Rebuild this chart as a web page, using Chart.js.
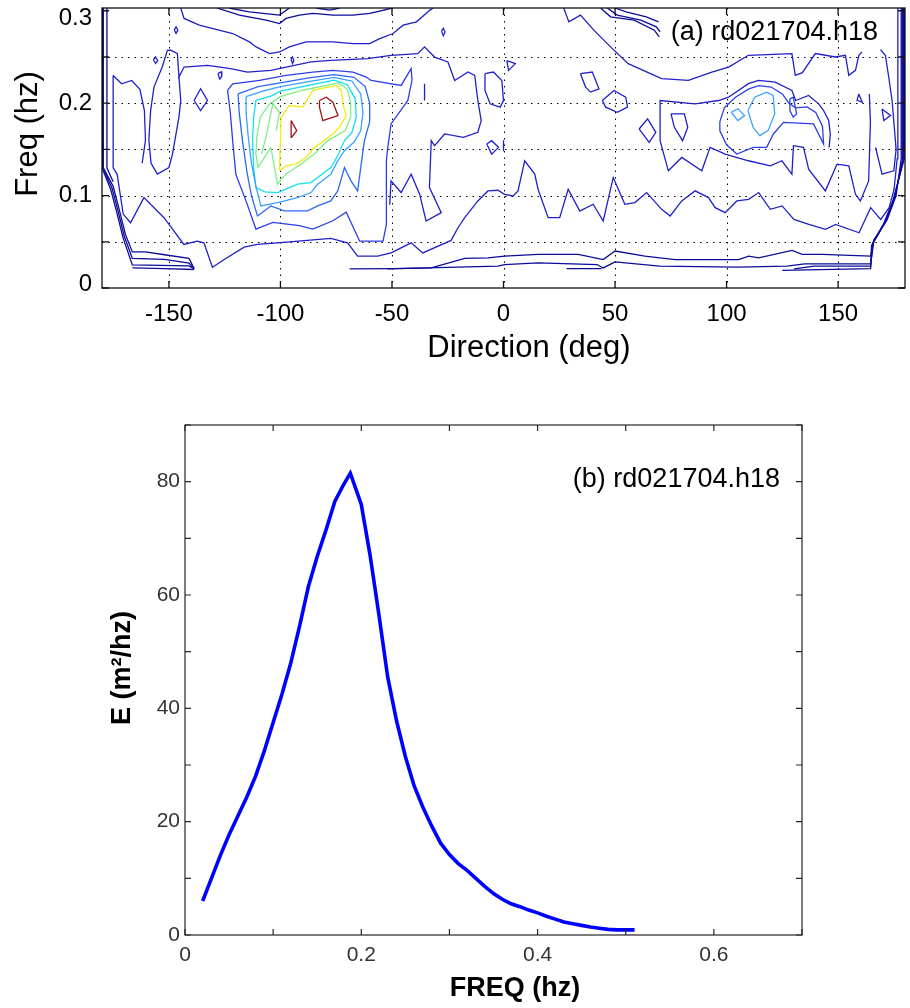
<!DOCTYPE html>
<html>
<head>
<meta charset="utf-8">
<script src="https://cdn.jsdelivr.net/npm/chart.js@4.4.1/dist/chart.umd.min.js"></script>
<style>
  html, body { margin: 0; padding: 0; background: #fff; }
  #wrap { position: relative; width: 910px; height: 1008px; }
  canvas { position: absolute; left: 0; }
</style>
</head>
<body>
<div id="wrap">
  <canvas id="dirspec" width="910" height="372" style="top:0"></canvas>
  <canvas id="freqspec" width="910" height="628" style="top:380px"></canvas>
</div>
<script>
// ---------- panel (b): frequency spectrum ----------
const freqHz = [0.02, 0.03, 0.04, 0.05, 0.06, 0.07, 0.08, 0.09, 0.10, 0.11, 0.12, 0.13, 0.14, 0.15,
  0.16, 0.17, 0.18, 0.1875, 0.19, 0.20, 0.21, 0.22, 0.23, 0.24, 0.25, 0.26, 0.27, 0.28, 0.29, 0.30,
  0.31, 0.32, 0.33, 0.34, 0.35, 0.36, 0.37, 0.38, 0.39, 0.40, 0.41, 0.42, 0.43, 0.44, 0.45, 0.46,
  0.47, 0.48, 0.49, 0.50, 0.51];
const energy = [6.0, 10.0, 14.0, 17.7, 21.0, 24.3, 28.0, 32.5, 37.5, 42.5, 48.0, 54.5, 61.5, 66.8,
  71.5, 76.5, 79.5, 81.5, 80.4, 76.0, 67.0, 56.5, 45.5, 37.8, 31.5, 26.3, 22.5, 19.2, 16.2, 14.2,
  12.6, 11.4, 10.0, 8.6, 7.3, 6.3, 5.5, 5.0, 4.4, 3.9, 3.3, 2.8, 2.3, 2.0, 1.7, 1.4,
  1.2, 1.0, 0.9, 0.9, 0.9];
const freqTicks = [0, 0.1, 0.2, 0.3, 0.4, 0.5, 0.6, 0.7];
const freqLabels = [0, 0.2, 0.4, 0.6];
const energyTicks = [0, 10, 20, 30, 40, 50, 60, 70, 80, 90];
const energyLabels = [0, 20, 40, 60, 80];

// ---------- panel (a): directional spectrum contours ----------
const dirTicks = [-150, -100, -50, 0, 50, 100, 150];
const dirFreqTicks = [0, 0.05, 0.1, 0.15, 0.2, 0.25, 0.3];
const dirFreqLabels = [0, 0.1, 0.2, 0.3];
const contourColors = ['#0c0c9a', '#2020c8', '#2c3fe8', '#2a68f5', '#3ba0ff', '#10e0f2', '#80ee88', '#eeee10', '#a01414'];

// each path is a list of [direction deg, freq hz]
const level1Paths = [
  [[-179.4, 0.303], [-179.4, 0.13], [-175, 0.11], [-172.5, 0.087], [-169.5, 0.058], [-166.4, 0.039], [-160.5, 0.039], [-152, 0.036], [-141, 0.032], [-138.7, 0.021]],
  [[-179.7, 0.303], [-179.7, 0.13], [-175.5, 0.108], [-173, 0.085], [-170, 0.056], [-166.4, 0.032], [-152, 0.031], [-141, 0.027], [-138.7, 0.021]],
  [[-180, 0.303], [-180, 0.13], [-176, 0.106], [-173.5, 0.083], [-170.5, 0.054], [-166.4, 0.025], [-141, 0.024], [-138.7, 0.021]],
  [[-166.4, 0.0217], [-152, 0.021], [-138.7, 0.020]],
  [[-177.8, 0.303], [-177.8, 0.13], [-175, 0.115]],
  [[-69, 0.0207], [-50, 0.021], [-32.4, 0.0217], [-17.4, 0.032], [-7, 0.0326], [0.5, 0.0345], [15.5, 0.0363], [33.5, 0.0363], [44.7, 0.0308], [50, 0.04], [63.4, 0.0345], [76.9, 0.0308], [105.4, 0.0308], [109.9, 0.0345], [114.4, 0.0326], [129.4, 0.0406], [133.9, 0.0363], [142.9, 0.0363], [164.6, 0.0345], [166, 0.052], [172, 0.074], [176, 0.1], [178.3, 0.14], [178.3, 0.303]],
  [[-52, 0.0207], [-2.5, 0.0236], [0.5, 0.0254], [15.5, 0.0272], [42, 0.0254], [44.7, 0.0217], [50, 0.0283], [70, 0.0236], [105, 0.0225], [127, 0.0236], [135, 0.026], [164.6, 0.026], [166, 0.05], [171.5, 0.0725], [175.5, 0.098], [178.8, 0.138], [178.8, 0.303]],
  [[28.3, 0.021], [44, 0.021]],
  [[130.3, 0.0207], [139.3, 0.0236], [164.6, 0.0236], [165.5, 0.048], [171, 0.071], [175, 0.096], [179.3, 0.14], [179.3, 0.303]],
  [[125, 0.019], [164.6, 0.021], [165, 0.046], [170.5, 0.07], [174.5, 0.094], [179.7, 0.14], [179.7, 0.303]],
  [[-123, 0.303], [-114, 0.2989], [-100.4, 0.2953], [-96, 0.303]],
  [[-84, 0.303], [-78, 0.3007], [-73.4, 0.303]],
  [[-128.5, 0.303], [-118.4, 0.2953], [-106.4, 0.2899], [-100.4, 0.2862], [-97.5, 0.2917], [-91.5, 0.2953], [-85.5, 0.2971], [-76.5, 0.2953], [-67.5, 0.2953], [-60, 0.2971], [-55, 0.3], [-50, 0.303]],
  [[43.5, 0.303], [48, 0.2935], [58.6, 0.2899], [67.6, 0.279], [69.8, 0.2717]],
  [[46.5, 0.303], [51, 0.2953], [61.6, 0.2899], [68.5, 0.2826], [70.2, 0.2772]],
  [[50, 0.303], [55, 0.2989], [64, 0.2935], [69.5, 0.288]]
];

const level2Paths = [
  [[-144.7, 0.303], [-143.2, 0.2917], [-136.4, 0.2844], [-121.4, 0.2754], [-113.9, 0.2663], [-110.9, 0.2609], [-104.9, 0.2536], [-100.4, 0.2554], [-96, 0.2609], [-88.5, 0.2663], [-76.5, 0.2663], [-67.5, 0.2645], [-60, 0.2645], [-55.5, 0.2699], [-49.5, 0.2754], [-45, 0.2844], [-39, 0.288], [-33, 0.3007], [-31.5, 0.303]],
  [[27, 0.303], [29.3, 0.288], [34.5, 0.2953], [40.5, 0.279], [48, 0.2609], [55.9, 0.2428], [70.9, 0.2265], [82.9, 0.2247], [93.4, 0.2337], [100.9, 0.2391], [109.8, 0.2518], [129.3, 0.2537], [130.8, 0.2301], [134, 0.233], [139.8, 0.2537], [148.8, 0.25], [153.3, 0.2518], [154.8, 0.2301], [157.8, 0.2355], [159.3, 0.2518], [160.7, 0.2555]],
  [[-175, 0.23], [-175, 0.13], [-173.2, 0.123], [-170.5, 0.08], [-167.2, 0.0706], [-161.2, 0.0978], [-152.2, 0.0761], [-143.3, 0.0471], [-137.3, 0.0507], [-134.3, 0.0489], [-130.5, 0.0225], [-125.2, 0.0308], [-116.3, 0.0442], [-110.3, 0.0471], [-101.3, 0.0489], [-77.4, 0.0537], [-69.9, 0.0489], [-65.4, 0.0345], [-56.4, 0.0345], [-50.4, 0.038], [-41.4, 0.0489], [-36.2, 0.038], [-23.5, 0.0515], [-20.4, 0.0652], [-17.4, 0.0761], [-11.5, 0.0942], [-7, 0.105], [-2.5, 0.1058], [0.5, 0.1014], [4.3, 0.0996], [6.5, 0.1051], [9.5, 0.1377], [14, 0.1232], [15.5, 0.1069], [20, 0.0761], [25.2, 0.0761], [29, 0.1069], [34.2, 0.0833], [40.2, 0.0906], [44.7, 0.0725], [49.2, 0.1196], [54.4, 0.0906], [58.9, 0.0924], [64.2, 0.1033], [70.9, 0.0851], [74.7, 0.0779], [79.9, 0.0942], [85.9, 0.1051], [91.9, 0.0978], [94.9, 0.0869], [99.4, 0.0815], [104.6, 0.0942], [109.9, 0.096], [114.4, 0.1033], [119.6, 0.0851], [124.9, 0.0888], [130.2, 0.0743], [136.9, 0.0688], [144.4, 0.0634], [148.9, 0.0688], [159.4, 0.0598], [164.6, 0.0869], [169.1, 0.0743], [172.9, 0.0869], [175.1, 0.1069], [176.5, 0.14], [176.8, 0.303]],
  [[-159, 0.16], [-158.2, 0.192], [-156.7, 0.2174], [-153, 0.2391], [-150.7, 0.2572], [-149.2, 0.2573], [-146.2, 0.2537], [-145.5, 0.2283], [-143.2, 0.2391], [-132.7, 0.241], [-122.3, 0.2374], [-114.8, 0.2337], [-104.3, 0.2355], [-86.3, 0.2446], [-77.4, 0.2464], [-60.9, 0.2483], [-50.4, 0.2517], [-38.4, 0.2536], [-35.4, 0.2609], [-30.9, 0.2499], [-24.9, 0.2446], [-21.9, 0.2246], [-15.9, 0.2337], [-12.9, 0.2301], [-11.5, 0.2029], [-10, 0.1812], [-11.5, 0.1685], [-18, 0.163], [-26.4, 0.1667], [-30.9, 0.154], [-32.4, 0.1595], [-33.2, 0.1087], [-27.9, 0.0815], [-34.7, 0.0725], [-37.6, 0.1015], [-41.4, 0.1232], [-45.9, 0.1033], [-50.4, 0.116], [-51, 0.09]],
  [[-159, 0.16], [-158, 0.135], [-155.2, 0.1232], [-150, 0.1304], [-148.4, 0.1449], [-145.5, 0.185], [-144.7, 0.2029], [-145.5, 0.2283]],
  [[-175, 0.23], [-171.2, 0.221], [-166.7, 0.2246], [-163, 0.215], [-161, 0.192], [-160.5, 0.16], [-162, 0.135]],
  [[-8.3, 0.2319], [-4.5, 0.2337], [-0.75, 0.2246], [0, 0.2029], [-1.5, 0.1957], [-6, 0.1993], [-8.3, 0.2138], [-8.3, 0.2319]],
  [[-7.5, 0.1558], [-5.3, 0.1594], [-2.25, 0.1522], [-5.3, 0.1449], [-7.5, 0.1558]],
  [[1.5, 0.246], [5.3, 0.2428], [2.25, 0.2355], [1.5, 0.246]],
  [[34.5, 0.2319], [39.8, 0.2337], [42.8, 0.2156], [39, 0.212], [36.8, 0.2174], [34.5, 0.2319]],
  [[44.3, 0.2029], [49.5, 0.2138], [54.8, 0.2065], [55.6, 0.1957], [51, 0.1902], [45.8, 0.1957], [44.3, 0.2029]],
  [[60.8, 0.1721], [64.6, 0.183], [68.3, 0.1685], [65.3, 0.1576], [60.8, 0.1721]],
  [[-138.7, 0.2029], [-135.8, 0.2156], [-132.7, 0.2029], [-135.8, 0.192], [-138.7, 0.2029]],
  [[70.2, 0.1594], [70.2, 0.2029], [85.9, 0.1993], [96.4, 0.2029], [100.9, 0.2065], [109.8, 0.2211], [114.3, 0.2247], [121.8, 0.2228], [129.3, 0.2138], [131, 0.2029], [136.8, 0.2084], [141.3, 0.1993], [143.5, 0.192], [145.8, 0.1812], [146.5, 0.1667], [146, 0.152]],
  [[70.2, 0.1594], [73.9, 0.1268], [79.9, 0.1413], [88.9, 0.1268], [92.6, 0.1522], [99.4, 0.1449], [109.8, 0.1377], [119.6, 0.1322], [124.8, 0.1377], [129.3, 0.1232], [130, 0.154], [134.5, 0.1522], [136.8, 0.1286], [144.3, 0.1051], [149.5, 0.134], [154.8, 0.1322], [157.8, 0.1014], [160, 0.0942], [163.7, 0.1159], [164.5, 0.18], [164, 0.21]],
  [[75.1, 0.1884], [81.1, 0.1884], [82.6, 0.1739], [80.3, 0.1594], [76.6, 0.1739], [75.1, 0.1884]],
  [[166.8, 0.1522], [169.7, 0.1232], [175, 0.1268], [176, 0.15], [175.7, 0.1594], [174.2, 0.2029], [172.7, 0.2283], [171.2, 0.2518], [169, 0.258]],
  [[159.3, 0.21], [160.8, 0.201], [158.5, 0.203], [159.3, 0.21]],
  [[169.7, 0.1938], [173.5, 0.1866], [170.5, 0.1812], [169.7, 0.1938]],
  [[-147.6, 0.279], [-146.8, 0.2825], [-146, 0.279], [-146.8, 0.2755], [-147.6, 0.279]],
  [[-157, 0.247], [-156, 0.25], [-155, 0.246], [-156, 0.243], [-157, 0.247]],
  [[-128, 0.232], [-126.5, 0.234], [-126.3, 0.229], [-127.2, 0.226], [-128, 0.232]],
  [[-95.3, 0.248], [-94.6, 0.25], [-94, 0.246], [-94.6, 0.243], [-95.3, 0.248]],
  [[-27.8, 0.278], [-27, 0.281], [-26.2, 0.277], [-27, 0.273], [-27.8, 0.278]],
  [[-35.4, 0.2211], [-35.4, 0.203]],
  [[0, 0.16], [0, 0.148]]
];

const level3Paths = [
  [[-123.7, 0.2138], [-121.4, 0.221], [-109.4, 0.2246], [-97.5, 0.23], [-85.5, 0.2337], [-76.5, 0.2355], [-67.5, 0.2337], [-61.5, 0.2283], [-59.4, 0.2246], [-45.9, 0.2192], [-41.4, 0.2374], [-41, 0.225], [-42.9, 0.2029], [-50.4, 0.1776], [-52, 0.15], [-52.5, 0.138], [-52.5, 0.0688], [-54, 0.0507], [-64.5, 0.0507], [-70.5, 0.0819], [-76.5, 0.0728], [-85.5, 0.0638], [-91.5, 0.0674], [-103.4, 0.071], [-111, 0.0638], [-115.4, 0.094], [-120, 0.123], [-121.4, 0.159], [-122.5, 0.19], [-123.7, 0.2138]],
  [[97, 0.18], [99, 0.195], [104, 0.2065], [110, 0.2155], [114.5, 0.219], [120, 0.2175], [125, 0.21], [128, 0.2], [131, 0.195], [136, 0.196], [140, 0.19], [143, 0.175], [143.5, 0.1558], [139, 0.1775], [125.5, 0.1793], [121, 0.1667], [118, 0.1522], [112, 0.1522], [104.6, 0.1449], [100, 0.155], [97, 0.17], [97, 0.18]],
  [[128.4, 0.2047], [129.9, 0.2065], [131.4, 0.1884], [129.9, 0.1848], [128.4, 0.192], [128.4, 0.2047]]
];

const level4Paths = [
  [[-119, 0.21], [-110, 0.218], [-100, 0.222], [-88, 0.227], [-76, 0.231], [-67, 0.228], [-62, 0.218], [-60, 0.2], [-60, 0.18], [-62.4, 0.159], [-65.4, 0.1051], [-68.4, 0.116], [-71.3, 0.1304], [-74.3, 0.1051], [-77.4, 0.0942], [-83.3, 0.0888], [-87.8, 0.0834], [-98.3, 0.0834], [-104.3, 0.0888], [-110.3, 0.0779], [-113, 0.1], [-115, 0.125], [-117, 0.159], [-118.5, 0.19], [-119, 0.21]]
];

const level5Paths = [
  [[-115.4, 0.207], [-108, 0.213], [-100, 0.218], [-88, 0.223], [-76, 0.228], [-68, 0.224], [-64, 0.21], [-63, 0.19], [-64, 0.17], [-67, 0.158], [-71.3, 0.1486], [-74.3, 0.1377], [-77.4, 0.1232], [-83.3, 0.1123], [-86.3, 0.1033], [-92.3, 0.0978], [-101.3, 0.0924], [-108.8, 0.0888], [-111, 0.11], [-113, 0.135], [-114.5, 0.165], [-115.4, 0.19], [-115.4, 0.207]],
  [[109.6, 0.192], [112.6, 0.2065], [117.9, 0.212], [120.9, 0.2084], [121.6, 0.1884], [118.6, 0.1703], [114.9, 0.1649], [111.9, 0.1739], [109.6, 0.192]],
  [[102.1, 0.1902], [105.1, 0.1938], [108.1, 0.1866], [105.1, 0.1812], [102.1, 0.1902]]
];

const level6Paths = [
  [[-111, 0.203], [-104, 0.208], [-100, 0.213], [-88, 0.219], [-76, 0.225], [-70, 0.22], [-66.5, 0.205], [-66, 0.185], [-68, 0.168], [-71.3, 0.1595], [-74.3, 0.1431], [-77.4, 0.1304], [-86.3, 0.1141], [-92.3, 0.1123], [-101.3, 0.1033], [-107, 0.104], [-111, 0.1087], [-112, 0.13], [-112.5, 0.16], [-112, 0.185], [-111, 0.203]]
];

const level7Paths = [
  [[-104.3, 0.1522], [-101.3, 0.1123], [-97.6, 0.1232], [-90.8, 0.1341], [-84.8, 0.145], [-78.8, 0.1595], [-71, 0.17], [-68.5, 0.185], [-68.5, 0.2], [-70, 0.215], [-74, 0.222], [-80, 0.219], [-90, 0.214], [-100, 0.207], [-105, 0.199], [-109, 0.185], [-110.5, 0.165], [-111, 0.145], [-110, 0.1304], [-107.5, 0.14], [-104.3, 0.1522]],
  [[-108.5, 0.145], [-106.5, 0.163], [-103.4, 0.1993], [-100.4, 0.1902], [-101.9, 0.1703]]
];

const level8Paths = [
  [[-100.4, 0.1268], [-99.7, 0.1848], [-96, 0.1975], [-90, 0.1957], [-85.5, 0.2138], [-75, 0.2192], [-72.7, 0.2138], [-72, 0.1993], [-70.5, 0.1866], [-73.5, 0.1739], [-76.5, 0.1667], [-82.5, 0.1558], [-84.7, 0.1522], [-88.5, 0.1413], [-93, 0.1341], [-97.5, 0.1322], [-100.4, 0.1268]]
];

const level9Paths = [
  [[-82.5, 0.2029], [-79.5, 0.2065], [-76.5, 0.2011], [-74.2, 0.1866], [-78.7, 0.183], [-81, 0.1812], [-82.5, 0.1957], [-82.5, 0.2029]],
  [[-95.2, 0.1812], [-92.7, 0.1703], [-95, 0.163], [-95.2, 0.1812]]
];

const FONT = "'Liberation Sans', Arial, Helvetica, sans-serif";

// frame, inward ticks, dotted grid, y labels and free text for MATLAB-like axes
const boxAxes = {
  id: 'boxAxes',
  beforeDatasetsDraw(chart, args, o) {
    const {ctx, chartArea: a, scales: {x, y}} = chart;
    ctx.save();
    ctx.strokeStyle = '#000';
    ctx.lineWidth = 1;
    ctx.setLineDash([1.5, 5]);
    (o.gridX || []).forEach(v => {
      const px = Math.round(x.getPixelForValue(v)) + 0.5;
      ctx.beginPath(); ctx.moveTo(px, a.top); ctx.lineTo(px, a.bottom); ctx.stroke();
    });
    (o.gridY || []).forEach(v => {
      const py = Math.round(y.getPixelForValue(v)) + 0.5;
      ctx.beginPath(); ctx.moveTo(a.left, py); ctx.lineTo(a.right, py); ctx.stroke();
    });
    ctx.restore();
  },
  afterDatasetsDraw(chart, args, o) {
    const {ctx, chartArea: a, scales: {x, y}} = chart;
    ctx.save();
    ctx.strokeStyle = o.color;
    ctx.lineWidth = o.lineWidth;
    ctx.strokeRect(a.left, a.top, a.right - a.left, a.bottom - a.top);
    ctx.beginPath();
    o.xTicks.forEach(v => {
      const px = x.getPixelForValue(v);
      ctx.moveTo(px, a.bottom); ctx.lineTo(px, a.bottom - o.tickLen);
      ctx.moveTo(px, a.top); ctx.lineTo(px, a.top + o.tickLen);
    });
    o.yTicks.forEach(v => {
      const py = y.getPixelForValue(v);
      ctx.moveTo(a.left, py); ctx.lineTo(a.left + o.tickLen, py);
      ctx.moveTo(a.right, py); ctx.lineTo(a.right - o.tickLen, py);
    });
    ctx.stroke();
    // y labels kept inside the height of the box, like the end labels of a MATLAB axis
    if (o.yLabels) {
      ctx.fillStyle = o.yLabels.color;
      ctx.font = o.yLabels.font;
      ctx.textAlign = 'right';
      ctx.textBaseline = 'middle';
      o.yLabels.values.forEach(v => {
        const py = Math.min(Math.max(y.getPixelForValue(v), a.top + 10), a.bottom - 4);
        ctx.fillText(String(v), a.left - o.yLabels.gap, py);
      });
    }
    o.texts.forEach(t => {
      ctx.save();
      ctx.fillStyle = '#000';
      ctx.font = t.font;
      ctx.textAlign = t.align;
      ctx.textBaseline = 'middle';
      ctx.translate(t.x, t.y);
      if (t.rotate) ctx.rotate(-Math.PI / 2);
      ctx.fillText(t.text, 0, 0);
      ctx.restore();
    });
    ctx.restore();
  }
};

function fixedTicks(values) {
  return scale => { scale.ticks = values.map(v => ({value: v})); };
}

// fixed axis box sizes, no extra room for overhanging tick labels
function fixWidth(w) {
  return s => { s.width = w; s.paddingTop = 0; s.paddingBottom = 0; };
}
function fixHeight(h) {
  return s => { s.height = h; s.paddingLeft = 0; s.paddingRight = 0; };
}

// ---- directional contour chart ----
const contourSets = [level1Paths, level2Paths, level3Paths, level4Paths, level5Paths,
  level6Paths, level7Paths, level8Paths, level9Paths];
const contourDatasets = [];
contourSets.forEach((paths, i) => {
  paths.forEach(p => {
    contourDatasets.push({
      data: p.map(([d, f]) => ({x: d, y: f})),
      showLine: true,
      borderColor: contourColors[i],
      borderWidth: 1.3,
      pointRadius: 0,
      fill: false,
      tension: 0
    });
  });
});

new Chart(document.getElementById('dirspec'), {
  type: 'scatter',
  data: {datasets: contourDatasets},
  options: {
    responsive: false,
    animation: false,
    devicePixelRatio: 1,
    layout: {padding: {left: 0, top: 8, right: 5, bottom: 0}},
    plugins: {
      legend: {display: false},
      tooltip: {enabled: false},
      boxAxes: {
        color: '#111', lineWidth: 1.3, tickLen: 7,
        gridX: dirTicks,
        gridY: [0.05, 0.1, 0.15, 0.2, 0.25],
        xTicks: dirTicks,
        yTicks: dirFreqTicks,
        yLabels: {values: dirFreqLabels, color: '#000', font: `24px ${FONT}`, gap: 10},
        texts: [
          {text: '(a) rd021704.h18', x: 878, y: 33, align: 'right', font: `27px ${FONT}`},
          {text: 'Direction (deg)', x: 529, y: 348, align: 'center', font: `31px ${FONT}`},
          {text: 'Freq (hz)', x: 28, y: 134, align: 'center', font: `31px ${FONT}`, rotate: true}
        ]
      }
    },
    scales: {
      x: {
        type: 'linear', min: -180, max: 180,
        afterBuildTicks: fixedTicks(dirTicks),
        afterFit: fixHeight(84),
        grid: {display: false, drawTicks: false},
        border: {display: false},
        ticks: {color: '#000', font: {family: FONT, size: 24}, padding: 12, maxRotation: 0,
          callback: v => String(v)}
      },
      y: {
        type: 'linear', min: 0, max: 0.303,
        afterBuildTicks: fixedTicks(dirFreqLabels),
        afterFit: fixWidth(102),
        grid: {display: false, drawTicks: false},
        border: {display: false},
        ticks: {display: false}
      }
    }
  },
  plugins: [boxAxes]
});

// ---- energy spectrum chart ----
new Chart(document.getElementById('freqspec'), {
  type: 'scatter',
  data: {
    datasets: [{
      data: freqHz.map((f, i) => ({x: f, y: energy[i]})),
      showLine: true,
      borderColor: '#0000ff',
      borderWidth: 3.6,
      pointRadius: 0,
      fill: false,
      tension: 0
    }]
  },
  options: {
    responsive: false,
    animation: false,
    devicePixelRatio: 1,
    layout: {padding: {left: 0, top: 45, right: 108, bottom: 0}},
    plugins: {
      legend: {display: false},
      tooltip: {enabled: false},
      boxAxes: {
        color: '#262626', lineWidth: 1.2, tickLen: 6,
        xTicks: freqTicks,
        yTicks: energyTicks,
        texts: [
          {text: '(b) rd021704.h18', x: 780, y: 100, align: 'right', font: `27px ${FONT}`},
          {text: 'FREQ (hz)', x: 515, y: 609, align: 'center', font: `bold 27px ${FONT}`},
          {text: 'E (m\u00b2/hz)', x: 123, y: 288, align: 'center', font: `bold 27px ${FONT}`, rotate: true}
        ]
      }
    },
    scales: {
      x: {
        type: 'linear', min: 0, max: 0.7,
        afterBuildTicks: fixedTicks(freqLabels),
        afterFit: fixHeight(73),
        grid: {display: false, drawTicks: false},
        border: {display: false},
        ticks: {color: '#333', font: {family: FONT, size: 21}, padding: 8, maxRotation: 0,
          callback: v => String(v)}
      },
      y: {
        type: 'linear', min: 0, max: 90,
        afterBuildTicks: fixedTicks(energyLabels),
        afterFit: fixWidth(185),
        grid: {display: false, drawTicks: false},
        border: {display: false},
        ticks: {color: '#333', font: {family: FONT, size: 21}, padding: 5,
          callback: v => String(v)}
      }
    }
  },
  plugins: [boxAxes]
});
</script>
</body>
</html>
